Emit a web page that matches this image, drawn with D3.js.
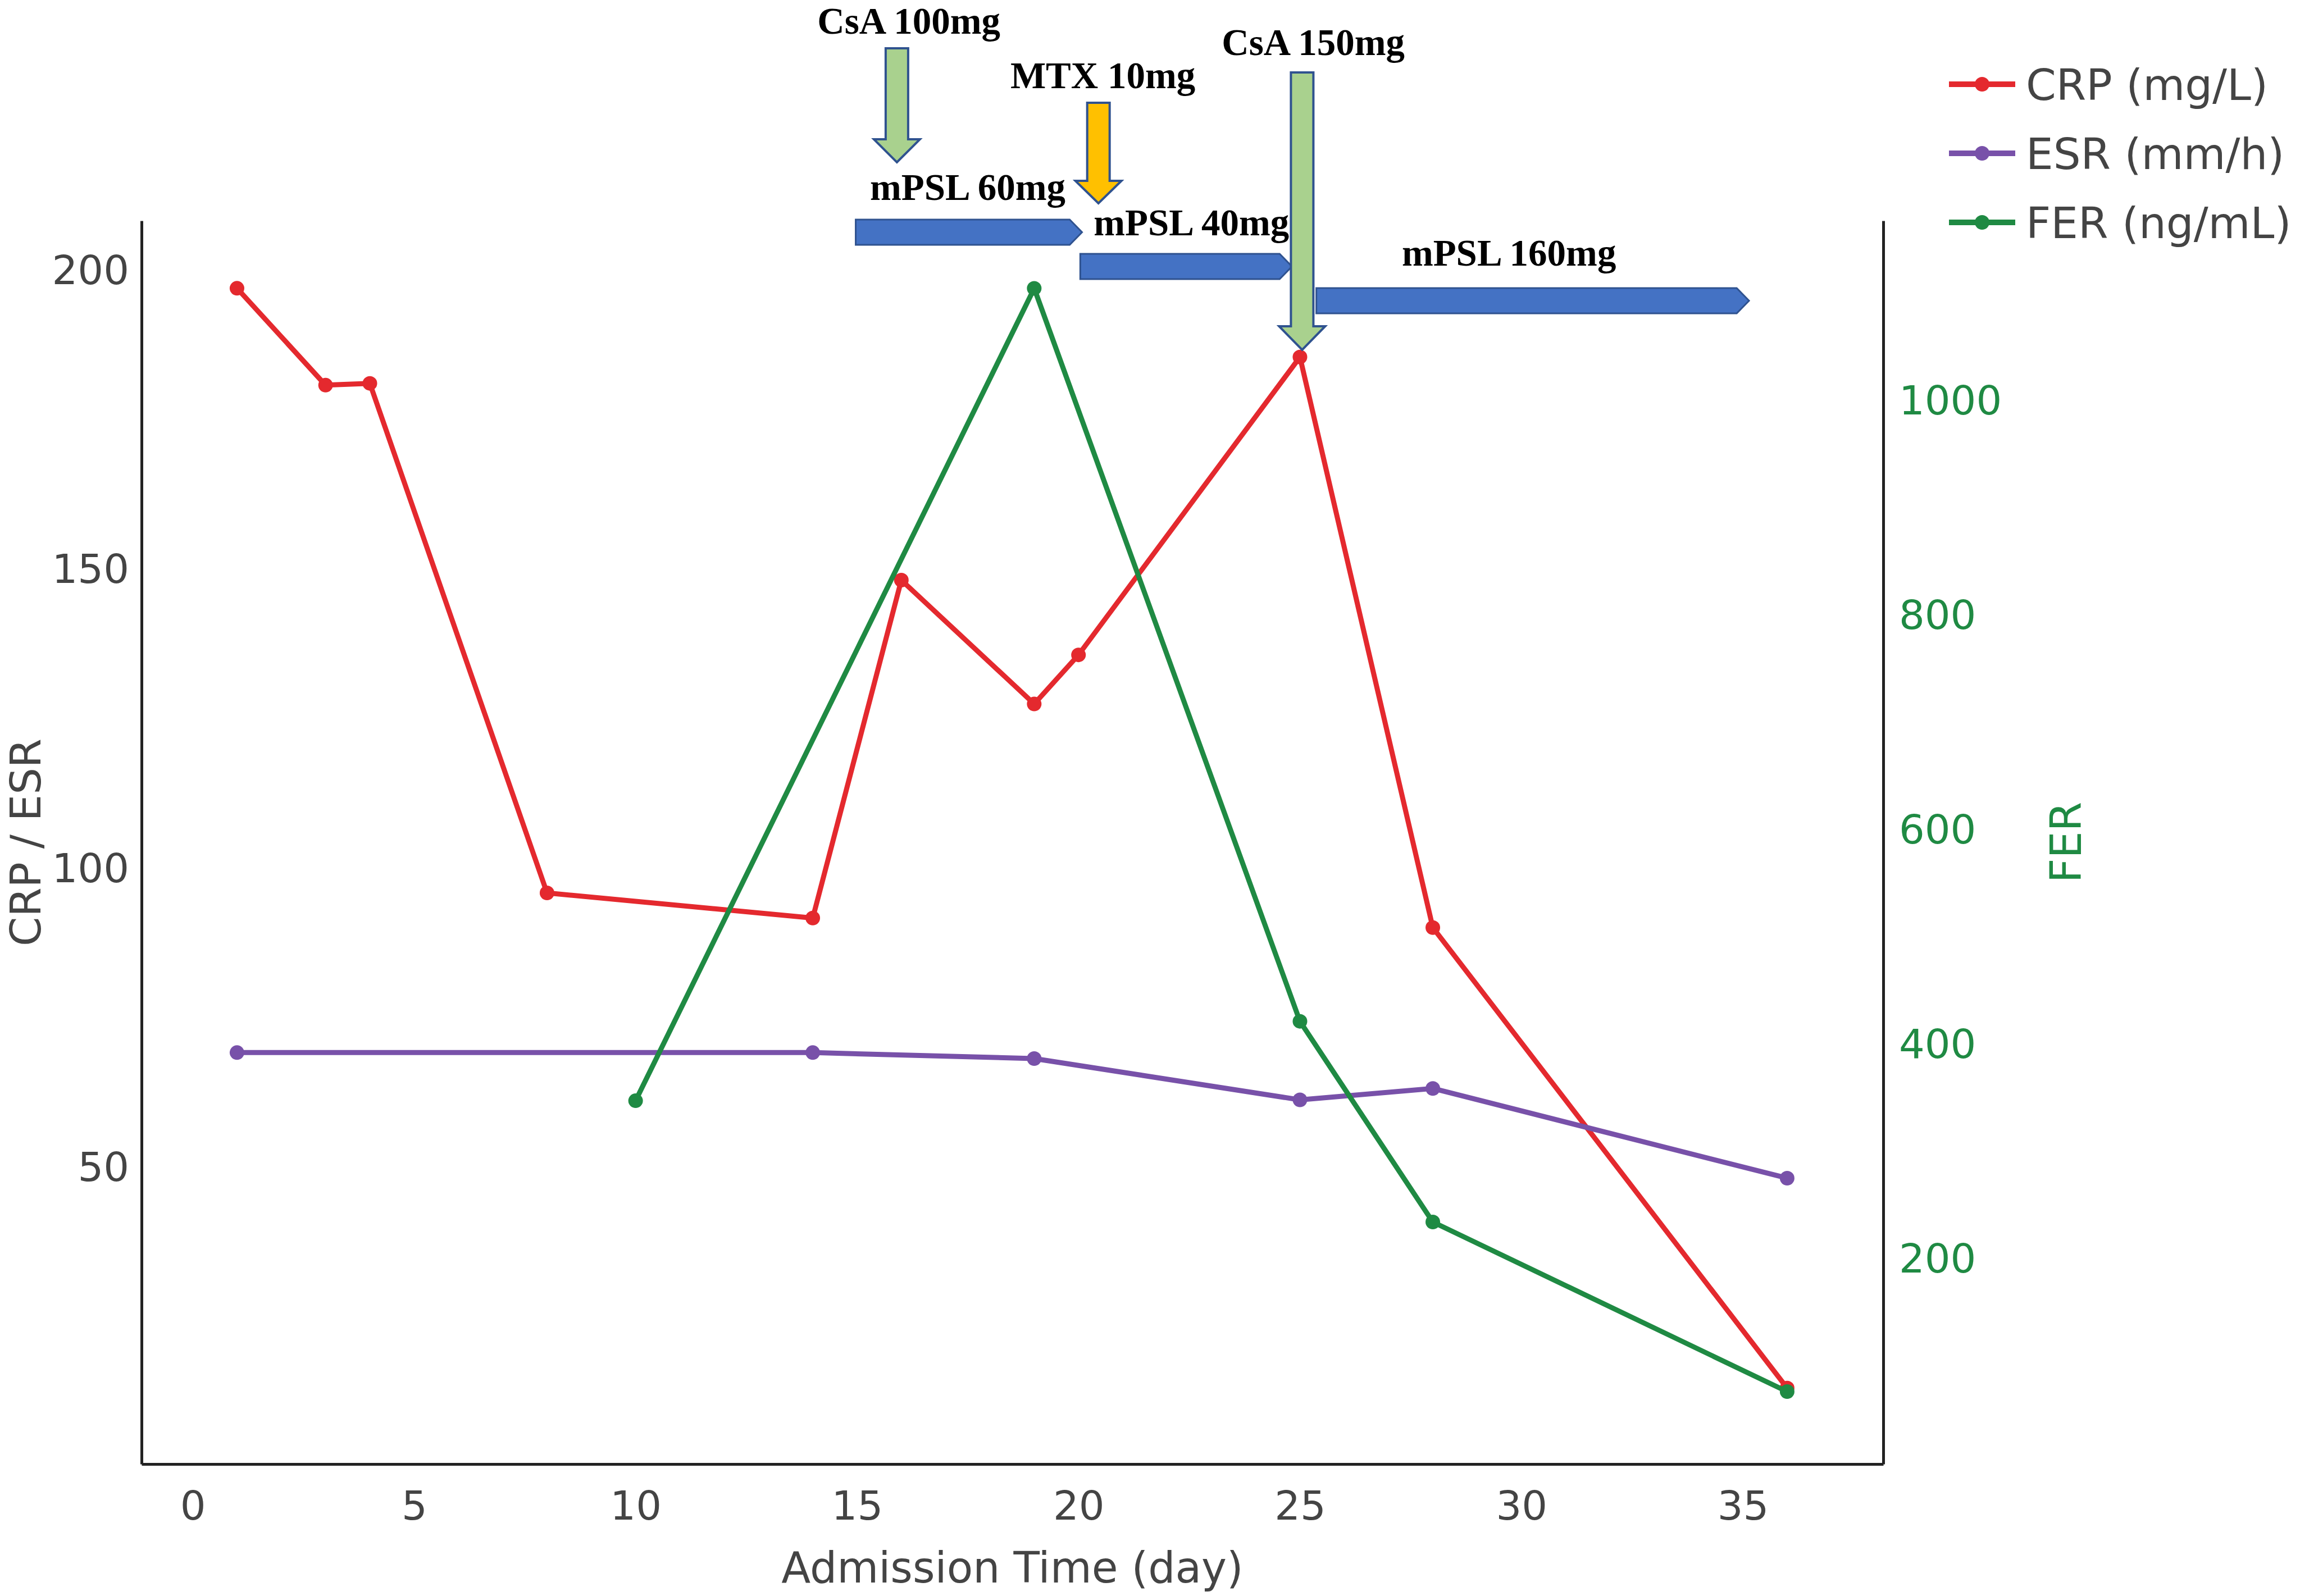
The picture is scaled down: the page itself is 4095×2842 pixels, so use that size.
<!DOCTYPE html>
<html>
  <head>
    <title>CRP / ESR / FER</title>
    <script src="https://cdn.jsdelivr.net/npm/d3@7/dist/d3.min.js"></script>
    <style>
      body { margin: 0; background: #fff; }
    </style>
  </head>
  <body>
    <svg width="4095" height="2842" id="mainsvg"></svg>
    <script>
      // data
      const crpDays = [1, 3, 4, 8, 14, 16, 19, 20, 25, 28, 36];
      const crpValues = [197.1, 180.9, 181.2, 96.0, 91.8, 148.3, 127.6, 135.8, 185.6, 90.2, 13.2];
      const esrDays = [1, 14, 19, 25, 28, 36];
      const esrValues = [69.3, 69.3, 68.3, 61.4, 63.3, 48.3];
      const ferDays = [10, 19, 25, 28, 36];
      const ferValues = [348, 1105, 422, 235, 77];

      const xTicks = [0, 5, 10, 15, 20, 25, 30, 35];
      const leftTicks = [50, 100, 150, 200];
      const rightTicks = [200, 400, 600, 800, 1000];

      // treatment annotations (days)
      const drugLabels = ['CsA 100mg', 'MTX 10mg', 'CsA 150mg'];
      const drugDays = [15.9, 20.45, 25.05];
      const drugLabelDays = [16.17, 20.55, 25.3];
      const mpslLabels = ['mPSL 60mg', 'mPSL 40mg', 'mPSL 160mg'];
      const mpslStart = [14.97, 20.04, 25.37];
      const mpslEnd = [20.08, 24.82, 35.14];
      const mpslLabelDays = [17.5, 22.55, 29.72];

      const svg = d3.select('#mainsvg');
      const plot = {left: 252, right: 3353, top: 393, bottom: 2607};
      const textColor = '#444444';
      const ferColor = '#1f8a43';
      const font = 'DejaVu Sans, Verdana, sans-serif';

      const xScale = d3.scaleLinear().domain([-1.155, 38.17]).range([plot.left, plot.right]);
      const yLeft = d3.scaleLinear().domain([0.5, 208.4]).range([plot.bottom, plot.top]);
      const yRight = d3.scaleLinear().domain([9.5, 1168]).range([plot.bottom, plot.top]);

      const styleAxis = function(g, color) {
        g.select('.domain').attr('stroke', '#222').attr('stroke-width', 5);
        g.selectAll('.tick line').remove();
        g.selectAll('.tick text')
          .attr('fill', color)
          .attr('font-family', font)
          .attr('font-size', 72);
      };

      svg.append('g')
        .attr('transform', `translate(0, ${plot.bottom})`)
        .call(d3.axisBottom(xScale).tickValues(xTicks).tickSize(0).tickSizeOuter(0).tickPadding(48))
        .call(g => styleAxis(g, textColor));

      svg.append('g')
        .attr('transform', `translate(${plot.left}, 0)`)
        .call(d3.axisLeft(yLeft).tickValues(leftTicks).tickSize(0).tickSizeOuter(0).tickPadding(22))
        .call(g => styleAxis(g, textColor));

      svg.append('g')
        .attr('transform', `translate(${plot.right}, 0)`)
        .call(d3.axisRight(yRight).tickValues(rightTicks).tickFormat(d3.format('d'))
          .tickSize(0).tickSizeOuter(0).tickPadding(28))
        .call(g => styleAxis(g, ferColor));

      // axis titles
      svg.append('text')
        .attr('x', (plot.left + plot.right) / 2)
        .attr('y', 2818)
        .attr('text-anchor', 'middle')
        .attr('font-family', font).attr('font-size', 76)
        .attr('fill', textColor)
        .text('Admission Time (day)');
      svg.append('text')
        .attr('transform', `translate(72, ${(plot.top + plot.bottom) / 2}) rotate(-90)`)
        .attr('text-anchor', 'middle')
        .attr('font-family', font).attr('font-size', 75)
        .attr('fill', textColor)
        .text('CRP / ESR');
      svg.append('text')
        .attr('transform', `translate(3705, ${(plot.top + plot.bottom) / 2}) rotate(-90)`)
        .attr('text-anchor', 'middle')
        .attr('font-family', font).attr('font-size', 76)
        .attr('fill', ferColor)
        .text('FER');

      const series = [
        {name: 'CRP (mg/L)', days: crpDays, values: crpValues, y: yLeft, color: '#e4292e'},
        {name: 'ESR (mm/h)', days: esrDays, values: esrValues, y: yLeft, color: '#7851a9'},
        {name: 'FER (ng/mL)', days: ferDays, values: ferValues, y: yRight, color: ferColor}
      ];

      series.forEach(function(s) {
        const pts = s.days.map((d, i) => [d, s.values[i]]);
        const line = d3.line().x(p => xScale(p[0])).y(p => s.y(p[1]));
        const g = svg.append('g');
        g.append('path')
          .attr('d', line(pts))
          .attr('fill', 'none')
          .attr('stroke', s.color)
          .attr('stroke-width', 9)
          .attr('stroke-linejoin', 'round');
        g.selectAll('circle')
          .data(pts)
          .join('circle')
          .attr('cx', p => xScale(p[0]))
          .attr('cy', p => s.y(p[1]))
          .attr('r', 13)
          .attr('fill', s.color);
      });

      // legend
      const legend = svg.append('g').attr('transform', 'translate(3470, 150)');
      series.forEach(function(s, i) {
        const row = legend.append('g').attr('transform', `translate(0, ${i * 123})`);
        row.append('line')
          .attr('x1', 0).attr('x2', 118)
          .attr('stroke', s.color).attr('stroke-width', 10);
        row.append('circle').attr('cx', 59).attr('r', 13).attr('fill', s.color);
        row.append('text')
          .attr('x', 137).attr('y', 28)
          .attr('font-family', font).attr('font-size', 77)
          .attr('fill', textColor)
          .text(s.name);
      });

      // treatment annotations
      const ann = svg.append('g');
      const annFont = 'Liberation Serif, Times New Roman, serif';
      const outline = '#2f528f';

      const barTops = [391, 452, 513];
      const barH = 45;
      const labelBase = [356, 419, 473];
      mpslLabels.forEach(function(lbl, i) {
        const x0 = xScale(mpslStart[i]);
        const x1 = xScale(mpslEnd[i]);
        const y0 = barTops[i];
        const pts = [[x0, y0], [x1 - 22, y0], [x1, y0 + barH / 2], [x1 - 22, y0 + barH], [x0, y0 + barH]];
        ann.append('polygon')
          .attr('points', pts.map(p => p.join(',')).join(' '))
          .attr('fill', '#4472c4')
          .attr('stroke', outline)
          .attr('stroke-width', 3);
        ann.append('text')
          .attr('x', xScale(mpslLabelDays[i]))
          .attr('y', labelBase[i])
          .attr('text-anchor', 'middle')
          .attr('font-family', annFont).attr('font-weight', 'bold').attr('font-size', 67)
          .attr('fill', '#000')
          .text(lbl);
      });

      const arrowShape = [
        {top: 86, head: 248, tip: 289, fill: '#a9d18e', base: 60},
        {top: 183, head: 322, tip: 362, fill: '#ffc000', base: 157},
        {top: 129, head: 581, tip: 623, fill: '#a9d18e', base: 98}
      ];
      drugLabels.forEach(function(lbl, i) {
        const a = arrowShape[i];
        const cx = xScale(drugDays[i]);
        const w = 20, hw = 41;
        const pts = [[cx - w, a.top], [cx + w, a.top], [cx + w, a.head], [cx + hw, a.head],
                     [cx, a.tip], [cx - hw, a.head], [cx - w, a.head]];
        ann.append('text')
          .attr('x', xScale(drugLabelDays[i]))
          .attr('y', a.base)
          .attr('text-anchor', 'middle')
          .attr('font-family', annFont).attr('font-weight', 'bold').attr('font-size', 67)
          .attr('fill', '#000')
          .text(lbl);
        ann.append('polygon')
          .attr('points', pts.map(p => p.join(',')).join(' '))
          .attr('fill', a.fill)
          .attr('stroke', outline)
          .attr('stroke-width', 4);
      });
    </script>
  </body>
</html>
